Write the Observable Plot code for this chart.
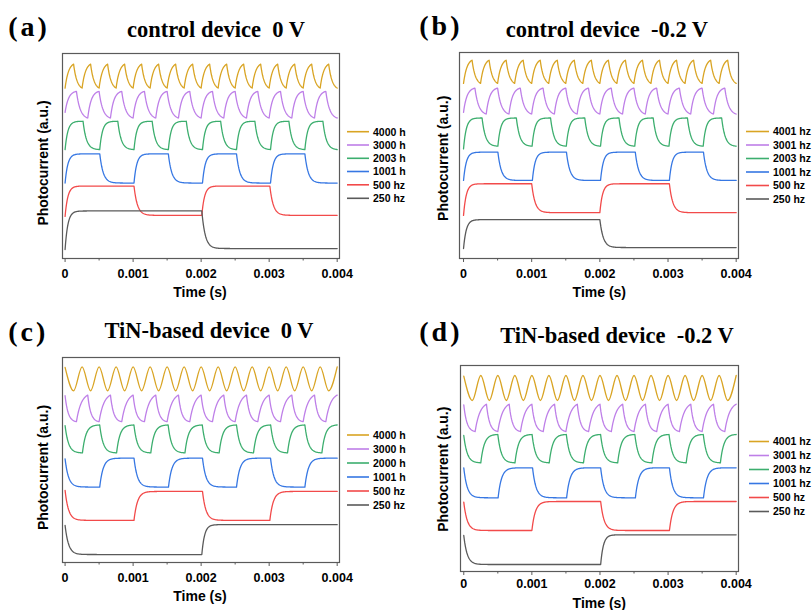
<!DOCTYPE html>
<html><head><meta charset="utf-8">
<script src="https://cdn.jsdelivr.net/npm/d3@7"></script>
<script src="https://cdn.jsdelivr.net/npm/@observablehq/plot@0.6"></script>
<style>
html,body{margin:0;padding:0;background:#fff;}
#root{position:relative;width:812px;height:610px;overflow:hidden;background:#fff;}
.panel{position:absolute;width:406px;height:305px;overflow:hidden;}
.panel svg{position:absolute;left:0;top:0;}
</style></head><body><div id="root"></div>
<script>
// ---------- data (times in ms, photocurrent in a.u.) ----------
const edges4000 = [0,0.125,0.25,0.375,0.5,0.625,0.75,0.875,1,1.125,1.25,1.375,1.5,1.625,1.75,1.875,2,2.125,2.25,2.375,2.5,2.625,2.75,2.875,3,3.125,3.25,3.375,3.5,3.625,3.75,3.875,4];
const edges3000 = [0,0.167,0.333,0.5,0.667,0.833,1,1.167,1.333,1.5,1.667,1.833,2,2.167,2.333,2.5,2.667,2.833,3,3.167,3.333,3.5,3.667,3.833,4];

const edgesA2000 = [0,0.264,0.509,0.775,1.013,1.28,1.518,1.782,2.02,2.287,2.52,2.79,3.02,3.29,3.525,3.79,4];
const edgesA1000 = [0,0.51,1.013,1.518,2.02,2.52,3.02,3.525,4];
const edgesA500 = [0,1.013,2.01,3.01,4];
const edgesA250 = [0,2.01,4];

const edgesB2000 = [0,0.272,0.504,0.775,1.006,1.277,1.508,1.779,2.01,2.281,2.512,2.783,3.014,3.285,3.516,3.787,4];
const edgesB1000 = [0,0.504,1.01,1.51,2.01,2.52,3.02,3.52,4];
const edgesB500 = [0,1.0,2.0,3.02,4];
const edgesB250 = [0,2.0,4];

const edgesC2000 = [0,0.255,0.509,0.757,1.012,1.26,1.515,1.762,2.017,2.265,2.52,2.77,3.022,3.27,3.525,3.775,4];
const edgesC1000 = [0,0.509,1.013,1.52,2.02,2.52,3.02,3.525,4];
const edgesC500 = [0,1.013,2.02,3.01,4];
const edgesC250 = [0,2.01,4];

const edgesD2000 = [0,0.25,0.5,0.752,1.003,1.255,1.506,1.758,2.009,2.26,2.512,2.763,3.014,3.266,3.517,3.768,4];
const edgesD1000 = [0,0.504,1.01,1.51,2.01,2.52,3.02,3.52,4];
const edgesD500 = [0,1.0,2.01,3.02,4];
const edgesD250 = [0,2.01,4];

const labelsA = ["4000 hz","3000 hz","2003 hz","1001 hz","500 hz","250 hz"];
const labelsB = ["4001 hz","3001 hz","2003 hz","1001 hz","500 hz","250 hz"];
const labelsC = ["4000 hz","3000 hz","2000 hz","1001 hz","500 hz","250 hz"];
const labelsD = ["4001 hz","3001 hz","2003 hz","1001 hz","500 hz","250 hz"];

const lowA = [171, 141, 109.3, 75.7, 43.3, 10];
const highA = [195, 167.7, 137.7, 105, 72.7, 47.7];
const startA = [171, 146.7, 109.3, 75.7, 42.3, 9];

const lowB = [175.7, 145, 112.7, 78.3, 46, 11];
const highB = [199, 171, 141, 106.7, 75, 39];
const startB = [175.7, 146.7, 110, 78.3, 43.3, 10];

const lowC = [172.3, 141.3, 110, 75.7, 42.3, 8];
const highC = [196.3, 168, 138, 104.7, 71.3, 38];
const startC = [195.7, 167.3, 137.3, 104, 72.3, 37.3];

const lowD = [171, 140, 108.7, 73.7, 41, 7];
const highD = [196, 167.3, 137, 103.7, 70, 36.7];
const startD = [195.3, 166.7, 136, 103.7, 69.3, 36];

// response time constants (ms) read from edge shapes
const tauRiseAB = [0.05, 0.05, 0.04, 0.04, 0.04, 0.04];
const tauFallAB = [0.05, 0.055, 0.05, 0.05, 0.05, 0.05];
const tauRiseCD = [0.05, 0.07, 0.05, 0.05, 0.05, 0.04];
const tauFallCD = [0.05, 0.045, 0.05, 0.05, 0.05, 0.05];

const colors = ["#D9A423","#BE7FE8","#3CAE6E","#3677E3","#F24A4A","#5A5A5A"];
const xTicks = [0, 0.001, 0.002, 0.003, 0.004];
const xMinor = [0.0005, 0.0015, 0.0025, 0.0035];

// ---------- layout ----------
const panels = [
  {id:"a", left:0, top:0, title:"control device\u00a0 0 V", edges:[edges4000,edges3000,edgesA2000,edgesA1000,edgesA500,edgesA250],
   lo:lowA, hi:highA, st:startA, inv:false, labels:labelsA, tr:tauRiseAB, tf:tauFallAB, smooth:false,
   ml:62, mr:67, mt:53, mb:47, x0:-0.000038, x1:0.004034, yTop:205.7, pad:7,
   tag:[8.3,36], ttl:[216,37.3], yl:[48.4,163], xl:[200,296.7], lg:{x0:347,x1:369,tx:373,rows:[131.7,145,158.3,171.5,184.8,198.3]}},
  {id:"b", left:406, top:0, title:"control device\u00a0 -0.2 V", edges:[edges4000,edges3000,edgesB2000,edgesB1000,edgesB500,edgesB250],
   lo:lowB, hi:highB, st:startB, inv:false, labels:labelsB, tr:tauRiseAB, tf:tauFallAB, smooth:false,
   ml:53, mr:74, mt:52, mb:47, x0:-0.000059, x1:0.004034, yTop:206.7, pad:7,
   tag:[13.3,35], ttl:[201,37.3], yl:[41.8,158.3], xl:[193.3,296.7], lg:{x0:340,x1:363,tx:367,rows:[131.5,145,158.5,172,185.5,199]}},
  {id:"c", left:0, top:305, title:"TiN-based device\u00a0 0 V", edges:[edges4000,edges3000,edgesC2000,edgesC1000,edgesC500,edgesC250],
   lo:lowC, hi:highC, st:startC, inv:true, labels:labelsC, tr:tauRiseCD, tf:tauFallCD, smooth:true,
   ml:62, mr:67, mt:52, mb:48, x0:-0.000038, x1:0.004034, yTop:205.7, pad:7,
   tag:[8.3,35.5], ttl:[209,33.3], yl:[48.4,162.5], xl:[200,296], lg:{x0:347,x1:369,tx:373,rows:[130,144,158,172,186,200]}},
  {id:"d", left:406, top:305, title:"TiN-based device\u00a0 -0.2 V", edges:[edges4000,edges3000,edgesD2000,edgesD1000,edgesD500,edgesD250],
   lo:lowD, hi:highD, st:startD, inv:true, labels:labelsD, tr:tauRiseCD, tf:tauFallCD, smooth:true,
   ml:54, mr:74, mt:60, mb:39, x0:-0.000048, x1:0.004034, yTop:206, pad:4,
   tag:[13.3,35.5], ttl:[211,38.3], yl:[41.8,164.2], xl:[193.3,303.3], lg:{x0:343,x1:363,tx:367,rows:[136.5,150.5,164.5,178.5,192.5,206.5]}}
];

// RC-response curve between switching knots (tau given in px)
function rcCurve(tUp, tDown) {
  return function(context) {
    let pts = [];
    return {
      areaStart() {}, areaEnd() {},
      lineStart() { pts = []; },
      point(x, y) { pts.push([+x, +y]); },
      lineEnd() {
        if (!pts.length) return;
        context.moveTo(pts[0][0], pts[0][1]);
        for (let i = 1; i < pts.length; ++i) {
          const [xa, ya] = pts[i-1], [xb, yb] = pts[i];
          const tau = yb < ya ? tUp : tDown;
          const dx = xb - xa;
          const n = Math.max(1, Math.ceil(dx * 2));
          const den = 1 - Math.exp(-dx / tau);
          for (let j = 1; j <= n; ++j) {
            const s = dx * j / n;
            const f = den > 0 ? (1 - Math.exp(-s / tau)) / den : 1;
            context.lineTo(xa + s, ya + (yb - ya) * f);
          }
        }
      }
    };
  };
}

const root = document.getElementById("root");
const W = 406, H = 305;

for (const p of panels) {
  const div = document.createElement("div");
  div.className = "panel";
  div.style.left = p.left + "px";
  div.style.top = p.top + "px";
  root.appendChild(div);

  const pxPerMs = (W - p.ml - p.mr) / ((p.x1 - p.x0) * 1000);
  const marks = [];
  p.edges.forEach((edges, i) => {
    const rows = edges.map((t, j) => {
      let v;
      if (j === 0) v = p.st[i];
      else {
        const odd = j % 2 === 1;
        v = (odd !== p.inv) ? p.hi[i] : p.lo[i];
      }
      return {t: t / 1000, v};
    });
    const curve = (p.smooth && i === 0) ? "monotone-x" : rcCurve(p.tr[i] * pxPerMs, p.tf[i] * pxPerMs);
    marks.push(Plot.line(rows, {x: "t", y: "v", stroke: colors[i], strokeWidth: 1.3, curve}));
  });
  marks.push(Plot.frame({stroke: "#5a5a5a", strokeWidth: 1.2}));
  marks.push(Plot.axisX(xTicks, {tickSize: 4, tickPadding: p.pad, stroke: "#5a5a5a", fill: "#000",
    fontSize: 12.5, fontWeight: "bold", tickFormat: d => d === 0 ? "0" : d3.format(".3f")(d), label: null}));
  marks.push(Plot.axisX(xMinor, {tickSize: 2.5, stroke: "#5a5a5a", tickFormat: () => "", label: null}));

  const svg = Plot.plot({
    width: W, height: H,
    marginLeft: p.ml, marginRight: p.mr, marginTop: p.mt, marginBottom: p.mb,
    x: {domain: [p.x0, p.x1], axis: null, label: null},
    y: {domain: [0, p.yTop], axis: null, label: null},
    style: {fontFamily: "'Liberation Sans', Arial, sans-serif", fontSize: "12.5px", fontWeight: "bold", background: "transparent", overflow: "hidden"},
    marks
  });
  div.appendChild(svg);

  // overlay texts and legend
  const ov = d3.select(div).append("svg").attr("width", W).attr("height", H);
  ov.append("text").attr("x", p.tag[0]).attr("y", p.tag[1])
    .attr("font-family", "'Liberation Serif', 'Times New Roman', serif").attr("font-weight", "bold")
    .attr("font-size", 28).attr("letter-spacing", 3).text("(" + p.id + ")");
  ov.append("text").attr("x", p.ttl[0]).attr("y", p.ttl[1]).attr("text-anchor", "middle")
    .attr("font-family", "'Liberation Serif', 'Times New Roman', serif").attr("font-weight", "bold")
    .attr("font-size", 22.5).text(p.title);
  ov.append("text").attr("transform", `translate(${p.yl[0]},${p.yl[1]}) rotate(-90)`).attr("text-anchor", "middle")
    .attr("font-family", "'Liberation Sans', Arial, sans-serif").attr("font-weight", "bold")
    .attr("font-size", 14).text("Photocurrent (a.u.)");
  ov.append("text").attr("x", p.xl[0]).attr("y", p.xl[1]).attr("text-anchor", "middle")
    .attr("font-family", "'Liberation Sans', Arial, sans-serif").attr("font-weight", "bold")
    .attr("font-size", 14).text("Time (s)");
  p.labels.forEach((lab, i) => {
    const y = p.lg.rows[i];
    ov.append("line").attr("x1", p.lg.x0).attr("x2", p.lg.x1).attr("y1", y).attr("y2", y)
      .attr("stroke", colors[i]).attr("stroke-width", 1.6);
    ov.append("text").attr("x", p.lg.tx).attr("y", y + 3.8)
      .attr("font-family", "'Liberation Sans', Arial, sans-serif").attr("font-weight", "bold")
      .attr("font-size", 10.5).text(lab);
  });
}
</script>
</body></html>
